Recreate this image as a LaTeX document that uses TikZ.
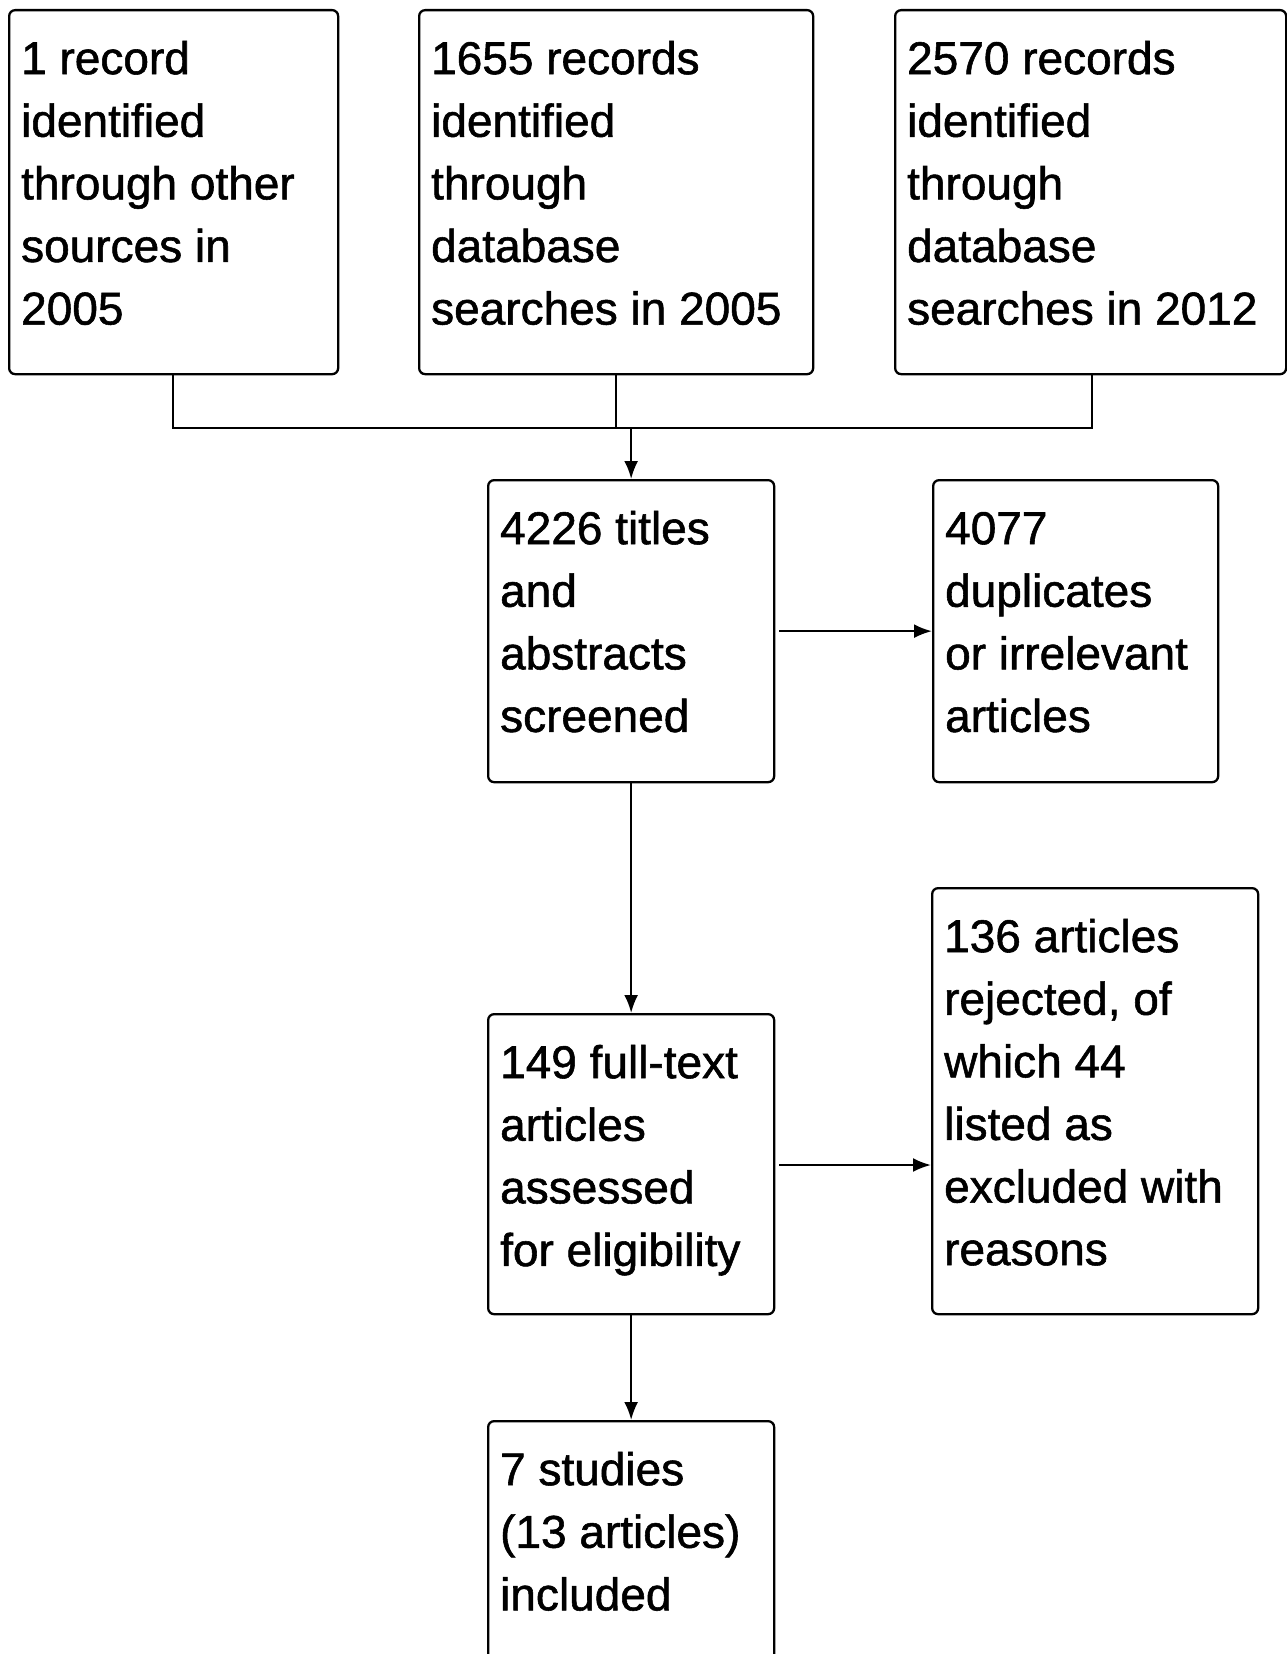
\documentclass[tikz,border=0pt]{standalone}
\usepackage{fontspec}
\setmainfont{Liberation Sans}[UprightFeatures={FakeBold=1.2}]
\usetikzlibrary{arrows.meta}
\newcommand\boxtxt[3]{\begin{minipage}[c][#2][t]{#1}\raggedright\leftskip=12pt\rule{0pt}{64pt}#3\end{minipage}}
\tikzset{
  fbox/.style={draw, line width=2.3pt, rounded corners=6pt, inner sep=0pt, anchor=north west,
    font=\fontsize{46}{62.6}\selectfont},
  conn/.style={line width=2.3pt},
  arr/.style={line width=2.3pt, -{Latex[length=18pt,width=14pt]}}
}
\begin{document}
\begin{tikzpicture}[x=1pt,y=-1pt]
\useasboundingbox (0,0) rectangle (1287,1654);
\node[fbox] (b1) at (8,9) {\boxtxt{329pt}{364pt}{1 record\\identified\\through other\\sources in\\2005}};
\node[fbox] (b2) at (418,9) {\boxtxt{394pt}{364pt}{1655 records\\identified\\through\\database\\searches in 2005}};
\node[fbox] (b3) at (894,9) {\boxtxt{391pt}{364pt}{2570 records\\identified\\through\\database\\searches in 2012}};
\node[fbox] (b4) at (487,479) {\boxtxt{286pt}{302pt}{4226 titles\\and\\abstracts\\screened}};
\node[fbox] (b5) at (932,479) {\boxtxt{285pt}{302pt}{4077\\duplicates\\or irrelevant\\articles}};
\node[fbox] (b6) at (487,1013) {\boxtxt{286pt}{300pt}{149 full-text\\articles\\assessed\\for eligibility}};
\node[fbox] (b7) at (931,887) {\boxtxt{326pt}{426pt}{136 articles\\rejected, of\\which 44\\listed as\\excluded with\\reasons}};
\node[fbox] (b8) at (487,1420) {\boxtxt{286pt}{245pt}{7 studies\\(13 articles)\\included}};
\coordinate (j1) at (173,428);
\coordinate (j3) at (1092,428);
\coordinate (jm) at (b4.north |- j1);
\draw[conn] (b1.south -| j1) -- (j1) -- (j3) -- (b3.south -| j3);
\draw[conn] (b2.south -| 616,0) -- (616,428);
\draw[arr] (jm) -- (b4.north);
\draw[arr] ([xshift=4pt]b4.east) -- (b5.west |- b4.east);
\draw[arr] (b4.south) -- (b6.north);
\draw[arr] ([xshift=4pt]b6.east |- 0,1165) -- (b7.west |- 0,1165);
\draw[arr] (b6.south) -- (b8.north);
\end{tikzpicture}
\end{document}
